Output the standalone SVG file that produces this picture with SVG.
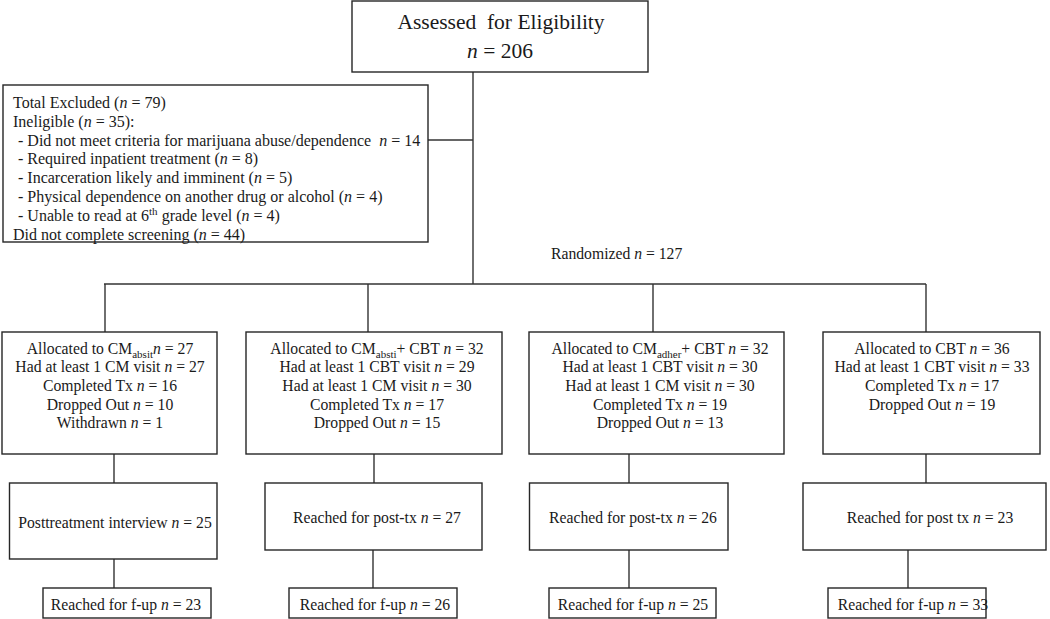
<svg xmlns="http://www.w3.org/2000/svg" width="1050" height="619" viewBox="0 0 1050 619">
<style>
rect{fill:#fff;stroke:#262626;stroke-width:1.4}
.c line{stroke:#333;stroke-width:1.4}
text{font-family:"Liberation Serif","Times New Roman",serif;fill:#1a1a1a;font-size:15.7px}
.m{text-anchor:middle}
.ex{font-size:16px}
.t{font-size:21.5px}
.i{font-style:italic}
.s{font-size:11px}
</style>
<g class="c" id="connectors">
<line x1="473" y1="72" x2="473" y2="284"/>
<line x1="428" y1="140" x2="473" y2="140"/>
<line x1="104" y1="284" x2="926" y2="284"/>
<line x1="105" y1="284" x2="105" y2="332"/>
<line x1="368" y1="284" x2="368" y2="332"/>
<line x1="653" y1="284" x2="653" y2="332"/>
<line x1="926" y1="284" x2="926" y2="332"/>
<line x1="114" y1="454" x2="114" y2="483"/>
<line x1="374" y1="454" x2="374" y2="483"/>
<line x1="629" y1="454" x2="629" y2="483"/>
<line x1="926" y1="454" x2="926" y2="483"/>
<line x1="114" y1="559" x2="114" y2="588"/>
<line x1="373" y1="550" x2="373" y2="588"/>
<line x1="629" y1="550" x2="629" y2="588"/>
<line x1="908" y1="550" x2="908" y2="588"/>
</g>
<g id="assessed">
<rect x="352" y="1" width="296" height="71"/>
<text class="m t" x="501" y="28.5">Assessed&#160; for Eligibility</text>
<text class="m t" x="500" y="57.5"><tspan class="i">n</tspan> = 206</text>
</g>
<g id="excluded">
<rect x="3" y="85" width="425" height="157"/>
<text class="ex" x="13" y="108">Total Excluded (<tspan class="i">n</tspan> = 79)</text>
<text class="ex" x="13" y="126.8">Ineligible (<tspan class="i">n</tspan> = 35):</text>
<text class="ex" x="18" y="145.6">- Did not meet criteria for marijuana abuse/dependence&#160; <tspan class="i">n</tspan> = 14</text>
<text class="ex" x="18" y="164.4">- Required inpatient treatment (<tspan class="i">n</tspan> = 8)</text>
<text class="ex" x="18" y="183.2">- Incarceration likely and imminent (<tspan class="i">n</tspan> = 5)</text>
<text class="ex" x="18" y="202">- Physical dependence on another drug or alcohol (<tspan class="i">n</tspan> = 4)</text>
<text class="ex" x="18" y="220.8">- Unable to read at 6<tspan class="s" dy="-6">th</tspan><tspan dy="6"> grade level (</tspan><tspan class="i">n</tspan> = 4)</text>
<text class="ex" x="13" y="239.6">Did not complete screening (<tspan class="i">n</tspan> = 44)</text>
</g>
<g id="randomized">
<text x="551" y="258.5">Randomized <tspan class="i">n</tspan> = 127</text>
</g>
<g id="alloc1">
<rect x="2" y="332" width="215" height="122"/>
<text class="m" x="110" y="353.5">Allocated to CM<tspan class="s" dy="4">absit</tspan><tspan class="i" dy="-4">n</tspan> = 27</text>
<text class="m" x="110" y="372.2">Had at least 1 CM visit <tspan class="i">n</tspan> = 27</text>
<text class="m" x="110" y="390.9">Completed Tx <tspan class="i">n</tspan> = 16</text>
<text class="m" x="110" y="409.6">Dropped Out <tspan class="i">n</tspan> = 10</text>
<text class="m" x="110" y="428.3">Withdrawn <tspan class="i">n</tspan> = 1</text>
</g>
<g id="alloc2">
<rect x="246" y="332" width="256" height="122"/>
<text class="m" x="377" y="353.5">Allocated to CM<tspan class="s" dy="4">absti</tspan><tspan dy="-4">+ CBT </tspan><tspan class="i">n</tspan> = 32</text>
<text class="m" x="377" y="372.2">Had at least 1 CBT visit <tspan class="i">n</tspan> = 29</text>
<text class="m" x="377" y="390.9">Had at least 1 CM visit <tspan class="i">n</tspan> = 30</text>
<text class="m" x="377" y="409.6">Completed Tx <tspan class="i">n</tspan> = 17</text>
<text class="m" x="377" y="428.3">Dropped Out <tspan class="i">n</tspan> = 15</text>
</g>
<g id="alloc3">
<rect x="529" y="332" width="255" height="122"/>
<text class="m" x="660" y="353.5">Allocated to CM<tspan class="s" dy="4">adher</tspan><tspan dy="-4">+ CBT </tspan><tspan class="i">n</tspan> = 32</text>
<text class="m" x="660" y="372.2">Had at least 1 CBT visit <tspan class="i">n</tspan> = 30</text>
<text class="m" x="660" y="390.9">Had at least 1 CM visit <tspan class="i">n</tspan> = 30</text>
<text class="m" x="660" y="409.6">Completed Tx <tspan class="i">n</tspan> = 19</text>
<text class="m" x="660" y="428.3">Dropped Out <tspan class="i">n</tspan> = 13</text>
</g>
<g id="alloc4">
<rect x="823" y="332" width="217" height="122"/>
<text class="m" x="932" y="353.5">Allocated to CBT <tspan class="i">n</tspan> = 36</text>
<text class="m" x="932" y="372.2">Had at least 1 CBT visit <tspan class="i">n</tspan> = 33</text>
<text class="m" x="932" y="390.9">Completed Tx <tspan class="i">n</tspan> = 17</text>
<text class="m" x="932" y="409.6">Dropped Out <tspan class="i">n</tspan> = 19</text>
</g>
<g id="post1">
<rect x="9.5" y="483" width="207.5" height="76"/>
<text class="m" x="115" y="528">Posttreatment interview <tspan class="i">n</tspan> = 25</text>
</g>
<g id="post2">
<rect x="265" y="483" width="217" height="67"/>
<text class="m" x="377" y="523">Reached for post-tx <tspan class="i">n</tspan> = 27</text>
</g>
<g id="post3">
<rect x="529.5" y="483" width="198.5" height="67"/>
<text class="m" x="633" y="523">Reached for post-tx <tspan class="i">n</tspan> = 26</text>
</g>
<g id="post4">
<rect x="803" y="483" width="243" height="67"/>
<text class="m" x="930" y="523">Reached for post tx <tspan class="i">n</tspan> = 23</text>
</g>
<g id="fup1">
<rect x="43" y="588" width="168" height="30"/>
<text class="m" x="126" y="610">Reached for f-up <tspan class="i">n</tspan> = 23</text>
</g>
<g id="fup2">
<rect x="289" y="588" width="168" height="30"/>
<text class="m" x="375" y="610">Reached for f-up <tspan class="i">n</tspan> = 26</text>
</g>
<g id="fup3">
<rect x="549" y="588" width="167" height="30"/>
<text class="m" x="633" y="610">Reached for f-up <tspan class="i">n</tspan> = 25</text>
</g>
<g id="fup4">
<rect x="828" y="588" width="158" height="30"/>
<text class="m" x="913" y="610">Reached for f-up <tspan class="i">n</tspan> = 33</text>
</g>
</svg>
